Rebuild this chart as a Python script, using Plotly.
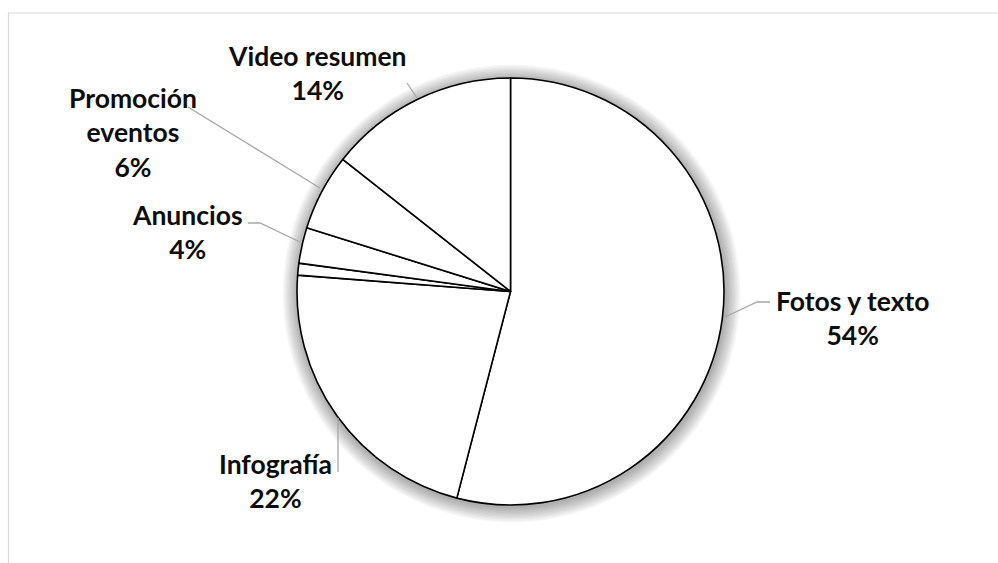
import plotly.graph_objects as go

# Data
categories = ["Fotos y texto", "Infografía", "Otros", "Anuncios", "Promoción eventos", "Video resumen"]
shares = [54.1, 22.2, 0.9, 2.7, 5.8, 14.4]
label_pct = ["54%", "22%", "", "4%", "6%", "14%"]

W, H = 998, 563
CX, CY, R = 510.5, 291.5, 213.5

def px(x):
    return x / W

def py(y):
    return 1 - y / H

def domain(cx, cy, r):
    return dict(x=[px(cx - r), px(cx + r)], y=[py(cy + r), py(cy - r)])

fig = go.Figure()

# soft shadow around the pie
for k in range(11, 0, -1):
    fig.add_trace(go.Pie(
        values=[1], labels=["s"], domain=domain(CX + 1, CY + 2, R + k * 1.4),
        marker=dict(colors=["rgba(0,0,0,0.032)"], line=dict(width=0)),
        textinfo="none", hoverinfo="skip", showlegend=False, sort=False,
    ))

fig.add_trace(go.Pie(
    labels=categories, values=shares, sort=False, direction="clockwise", rotation=0,
    domain=domain(CX, CY, R),
    marker=dict(colors=["#ffffff"] * len(categories), line=dict(color="#000000", width=1.6)),
    textinfo="none", hoverinfo="label+percent", showlegend=False,
))

# label placement (pixel centres of text blocks) and leader lines
label_pos = {
    "Fotos y texto": (852, 318),
    "Infografía": (275, 481),
    "Anuncios": (187.5, 232),
    "Promoción eventos": (132.5, 133),
    "Video resumen": (317, 73),
}
label_text = {
    "Promoción eventos": "Promoción<br>eventos",
}
leaders = [
    [(407, 83), (417, 98)],
    [(188, 107), (320, 188)],
    [(248, 223), (260, 223), (300, 242)],
    [(770, 302), (757, 302), (725, 317)],
    [(338, 472), (338, 418)],
]

annotations = []
for cat, pct in zip(categories, label_pct):
    if not pct:
        continue
    x, y = label_pos[cat]
    name = label_text.get(cat, cat)
    annotations.append(dict(
        x=px(x), y=py(y), xref="paper", yref="paper", xanchor="center", yanchor="middle",
        text=f"<b>{name}<br>{pct}</b>", showarrow=False, align="center",
        font=dict(family="Lato, Carlito, Calibri, sans-serif", size=26.5, color="#0d0d0d"),
    ))

shapes = []
for pts in leaders:
    path = "M " + " L ".join(f"{px(a):.5f},{py(b):.5f}" for a, b in pts)
    shapes.append(dict(type="path", xref="paper", yref="paper", path=path,
                       line=dict(color="#a6a6a6", width=1.3)))

# chart frame
shapes.append(dict(type="rect", xref="paper", yref="paper",
                   x0=px(8.5), x1=1.2, y0=-0.2, y1=py(13),
                   line=dict(color="#d9d9d9", width=1.2), fillcolor="rgba(0,0,0,0)"))

fig.update_layout(
    width=W, height=H, margin=dict(l=0, r=0, t=0, b=0),
    paper_bgcolor="#ffffff", plot_bgcolor="#ffffff",
    annotations=annotations, shapes=shapes, showlegend=False,
)

fig.write_html("out.html")
